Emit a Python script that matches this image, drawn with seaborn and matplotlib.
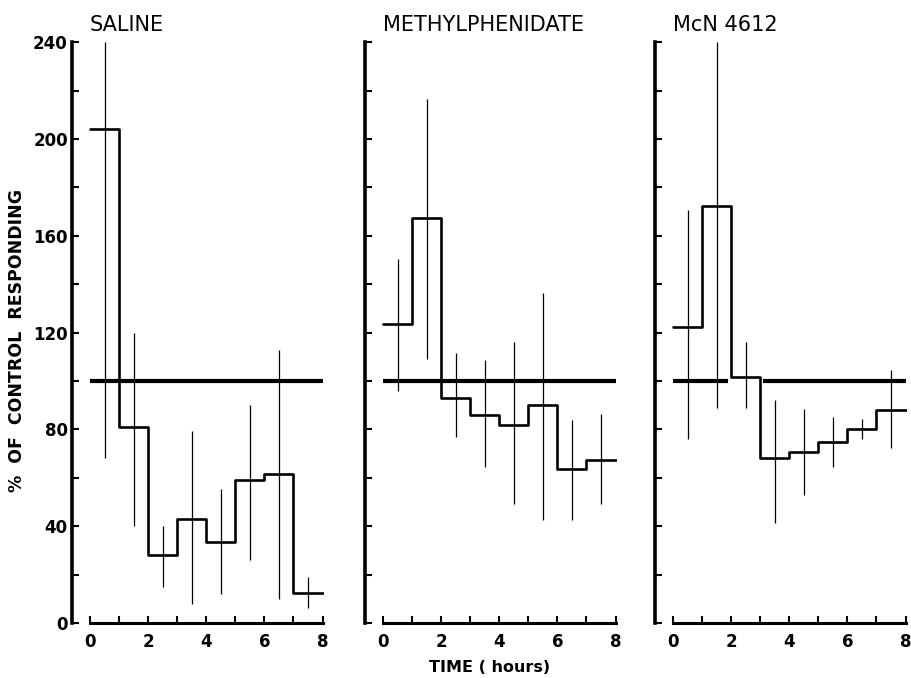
import numpy as np
import matplotlib
matplotlib.use("Agg")
import matplotlib.pyplot as plt
import seaborn as sns

# hourly bins 0-1 ... 7-8
hour_edges = [0, 1, 2, 3, 4, 5, 6, 7, 8]
hour_mids = [0.5, 1.5, 2.5, 3.5, 4.5, 5.5, 6.5, 7.5]

titles = ["SALINE", "METHYLPHENIDATE", "McN 4612"]

# % of control responding (mean per hour)
saline_mean = [204, 81, 28, 43, 33.5, 59, 61.5, 12.5]
saline_lo = [68, 40, 15, 8, 12, 26, 10, 6]
saline_hi = [240, 120, 40, 79.5, 55.5, 90, 113, 19]

methyl_mean = [123.5, 167.5, 93, 86, 82, 90, 63.5, 67.5]
methyl_lo = [96, 109, 77, 64.5, 49, 42.5, 42.5, 49]
methyl_hi = [150.5, 216.5, 111.5, 108.5, 116, 136.5, 84, 86.5]

mcn_mean = [122.5, 172.5, 101.5, 68, 70.5, 75, 80, 88]
mcn_lo = [76, 89, 89, 41.5, 53, 64.5, 76, 72.5]
mcn_hi = [170.5, 240, 116, 92, 88.5, 85, 84.5, 104.5]

# control (100 %) reference line pieces
control_level = 100
saline_control = [(0, 8)]
methyl_control = [(0, 8)]
mcn_control = [(0, 1.9), (3.1, 8)]

y_ticks = list(range(0, 241, 20))
y_labels = [str(v) if v % 40 == 0 else "" for v in y_ticks]
x_ticks = list(range(0, 9))
x_labels = [str(v) if v % 2 == 0 else "" for v in x_ticks]

panels = [
    (saline_mean, saline_lo, saline_hi, saline_control),
    (methyl_mean, methyl_lo, methyl_hi, methyl_control),
    (mcn_mean, mcn_lo, mcn_hi, mcn_control),
]

sns.set_style("ticks")
plt.rcParams["font.family"] = ["DejaVu Sans"]
plt.rcParams["text.color"] = "black"
plt.rcParams["axes.edgecolor"] = "black"
plt.rcParams["xtick.color"] = "black"
plt.rcParams["ytick.color"] = "black"
plt.rcParams["axes.labelcolor"] = "black"

fig = plt.figure(figsize=(9.12, 6.78), dpi=100)
lefts = [72 / 912, 365 / 912, 655 / 912]
bottom = 55 / 678
width = 252 / 912
height = (242 * 2.42) / 678

for i, (mean, lo, hi, control) in enumerate(panels):
    ax = fig.add_axes([lefts[i], bottom, width, height])

    # step line of the hourly means
    sns.lineplot(x=hour_edges, y=mean + [mean[-1]], drawstyle="steps-post",
                 estimator=None, color="black", linewidth=1.9, ax=ax)
    # error bars
    ax.vlines(hour_mids, lo, hi, color="black", linewidth=0.9)
    # control line
    for x0, x1 in control:
        ax.hlines(control_level, x0, x1, color="black", linewidth=3.0)

    ax.set_xlim(-0.62, 8.05)
    ax.set_ylim(0, 242)
    ax.spines["top"].set_visible(False)
    ax.spines["right"].set_visible(False)
    ax.spines["left"].set_bounds(0, 240)
    ax.spines["bottom"].set_bounds(0, 8)
    ax.spines["left"].set_linewidth(2.6)
    ax.spines["bottom"].set_linewidth(2.2)

    ax.set_yticks(y_ticks)
    ax.set_xticks(x_ticks)
    ax.set_xticklabels(x_labels, fontsize=12, fontweight="bold")
    if i == 0:
        ax.set_yticklabels(y_labels, fontsize=12, fontweight="bold")
    else:
        ax.set_yticklabels([])
    ax.tick_params(axis="y", direction="in", length=5, width=1.5, pad=3)
    ax.tick_params(axis="x", direction="in", length=5, width=1.5, pad=7)
    ax.set_xlabel("")
    ax.set_ylabel("")

    ax.text(0, 1.0205, titles[i], transform=ax.get_xaxis_transform(),
            ha="left", va="center", fontsize=15)

fig.text(17 / 912, 1 - 340 / 678, "%  OF  CONTROL  RESPONDING", rotation=90,
         ha="center", va="center", fontsize=12.5, fontweight="bold")
fig.text(490 / 912, 1 - 668 / 678, "TIME ( hours)", ha="center", va="center",
         fontsize=11.5, fontweight="bold")

fig.savefig("out.png", dpi=100)
